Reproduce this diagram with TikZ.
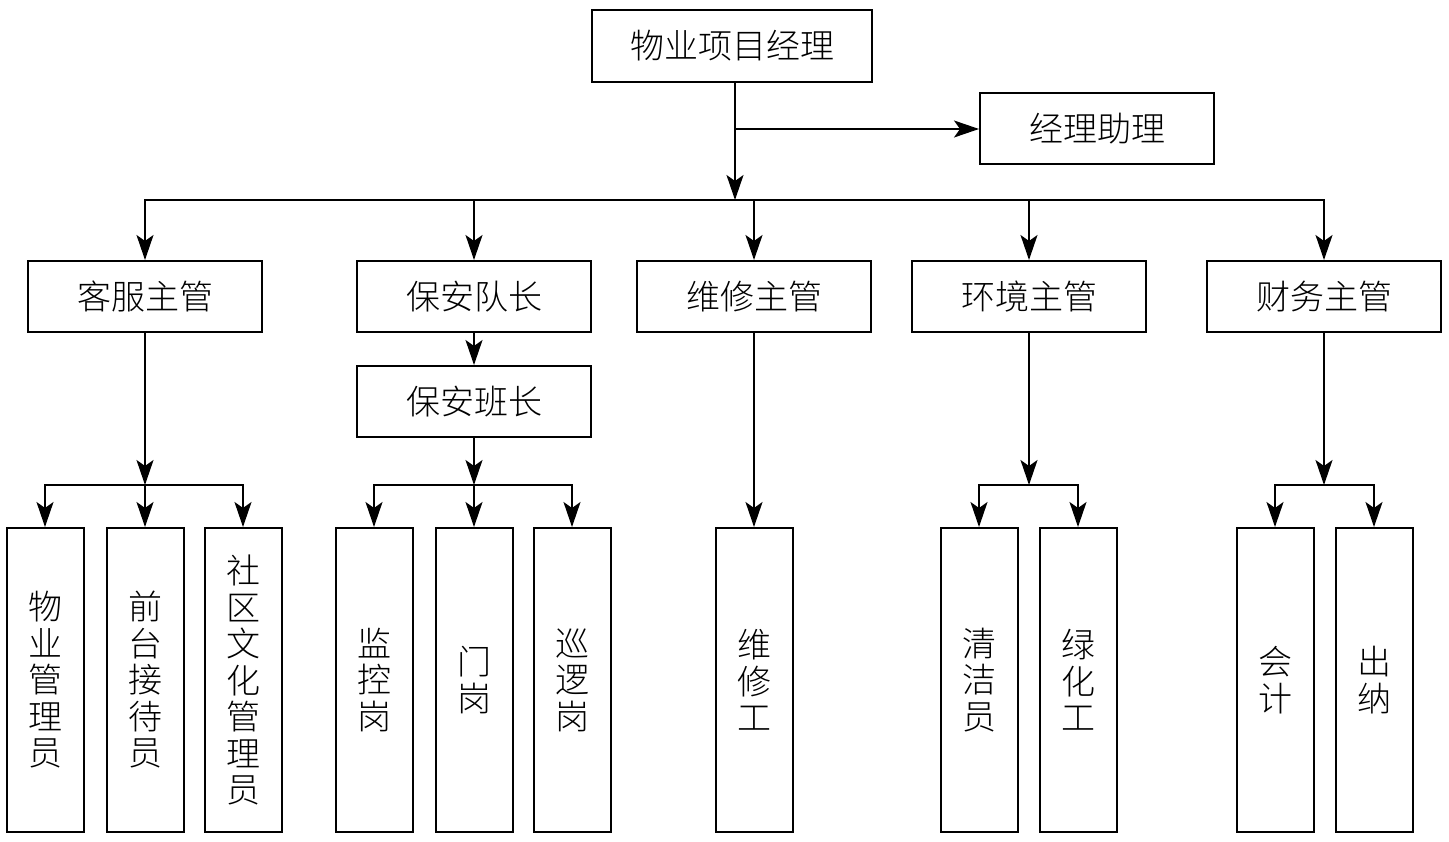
\documentclass[tikz,border=0pt]{standalone}
\usepackage{fontspec}
\setmainfont{Noto Sans CJK SC}[UprightFont=* Light]
\usetikzlibrary{arrows.meta}
\tikzset{
  box/.style={draw, line width=2pt, inner sep=0pt, font=\fontsize{34}{36}\selectfont},
  hbox/.style={box, minimum width=234pt, minimum height=71pt},
  vbox/.style={box, minimum width=77pt, minimum height=304pt, align=center, font=\fontsize{34}{36.5}\selectfont},
  arr/.style={line width=1.8pt, -{Stealth[length=25pt,width=17pt,inset=6pt]}},
  ln/.style={line width=1.8pt}
}
\begin{document}
\begin{tikzpicture}[x=1pt,y=-1pt]
\useasboundingbox (0,0) rectangle (1449,842);
% top
\node[box, minimum width=280pt, minimum height=72pt] (pm) at (732,46) {物业项目经理};
\node[hbox] (zl) at (1097,129) {经理助理};
% second row
\node[hbox] (kf) at (145,296.5) {客服主管};
\node[hbox] (ba) at (474,296.5) {保安队长};
\node[hbox] (wx) at (754,296.5) {维修主管};
\node[hbox] (hj) at (1029,296.5) {环境主管};
\node[hbox] (cw) at (1324,296.5) {财务主管};
\node[hbox] (bz) at (474,401.5) {保安班长};
% bottom row
\node[vbox] (wy) at (45,680) {物\\业\\管\\理\\员};
\node[vbox] (qt) at (145,680) {前\\台\\接\\待\\员};
\node[vbox] (sq) at (243,680) {社\\区\\文\\化\\管\\理\\员};
\node[vbox] (jk) at (374,680) {监\\控\\岗};
\node[vbox] (mg) at (474,680) {门\\岗};
\node[vbox] (xl) at (572,680) {巡\\逻\\岗};
\node[vbox] (wxg) at (754,680) {维\\修\\工};
\node[vbox] (qj) at (979,680) {清\\洁\\员};
\node[vbox] (lh) at (1078,680) {绿\\化\\工};
\node[vbox] (kj) at (1275,680) {会\\计};
\node[vbox] (cn) at (1374,680) {出\\纳};
% coordinates
\coordinate (bus) at (735,200);
\coordinate (c1) at (145,485);
\coordinate (c2) at (474,485);
\coordinate (c4) at (1029,485);
\coordinate (c5) at (1324,485);
% top connectors
\draw[arr] (bus |- pm.south) -- (bus);
\draw[arr] (bus |- zl.west) -- (zl.west);
\draw[arr] (bus) -| (kf.north);
\draw[arr] (bus) -| (ba.north);
\draw[arr] (bus) -| (wx.north);
\draw[arr] (bus) -| (hj.north);
\draw[arr] (bus) -| (cw.north);
% 客服
\draw[arr] (kf.south) -- (c1);
\draw[arr] (c1) -| (wy.north);
\draw[arr] (c1) -- (qt.north);
\draw[arr] (c1) -| (sq.north);
% 保安
\draw[arr] (ba.south) -- (bz.north);
\draw[arr] (bz.south) -- (c2);
\draw[arr] (c2) -| (jk.north);
\draw[arr] (c2) -- (mg.north);
\draw[arr] (c2) -| (xl.north);
% 维修
\draw[arr] (wx.south) -- (wxg.north);
% 环境
\draw[arr] (hj.south) -- (c4);
\draw[arr] (c4) -| (qj.north);
\draw[arr] (c4) -| (lh.north);
% 财务
\draw[arr] (cw.south) -- (c5);
\draw[arr] (c5) -| (kj.north);
\draw[arr] (c5) -| (cn.north);
\end{tikzpicture}
\end{document}
